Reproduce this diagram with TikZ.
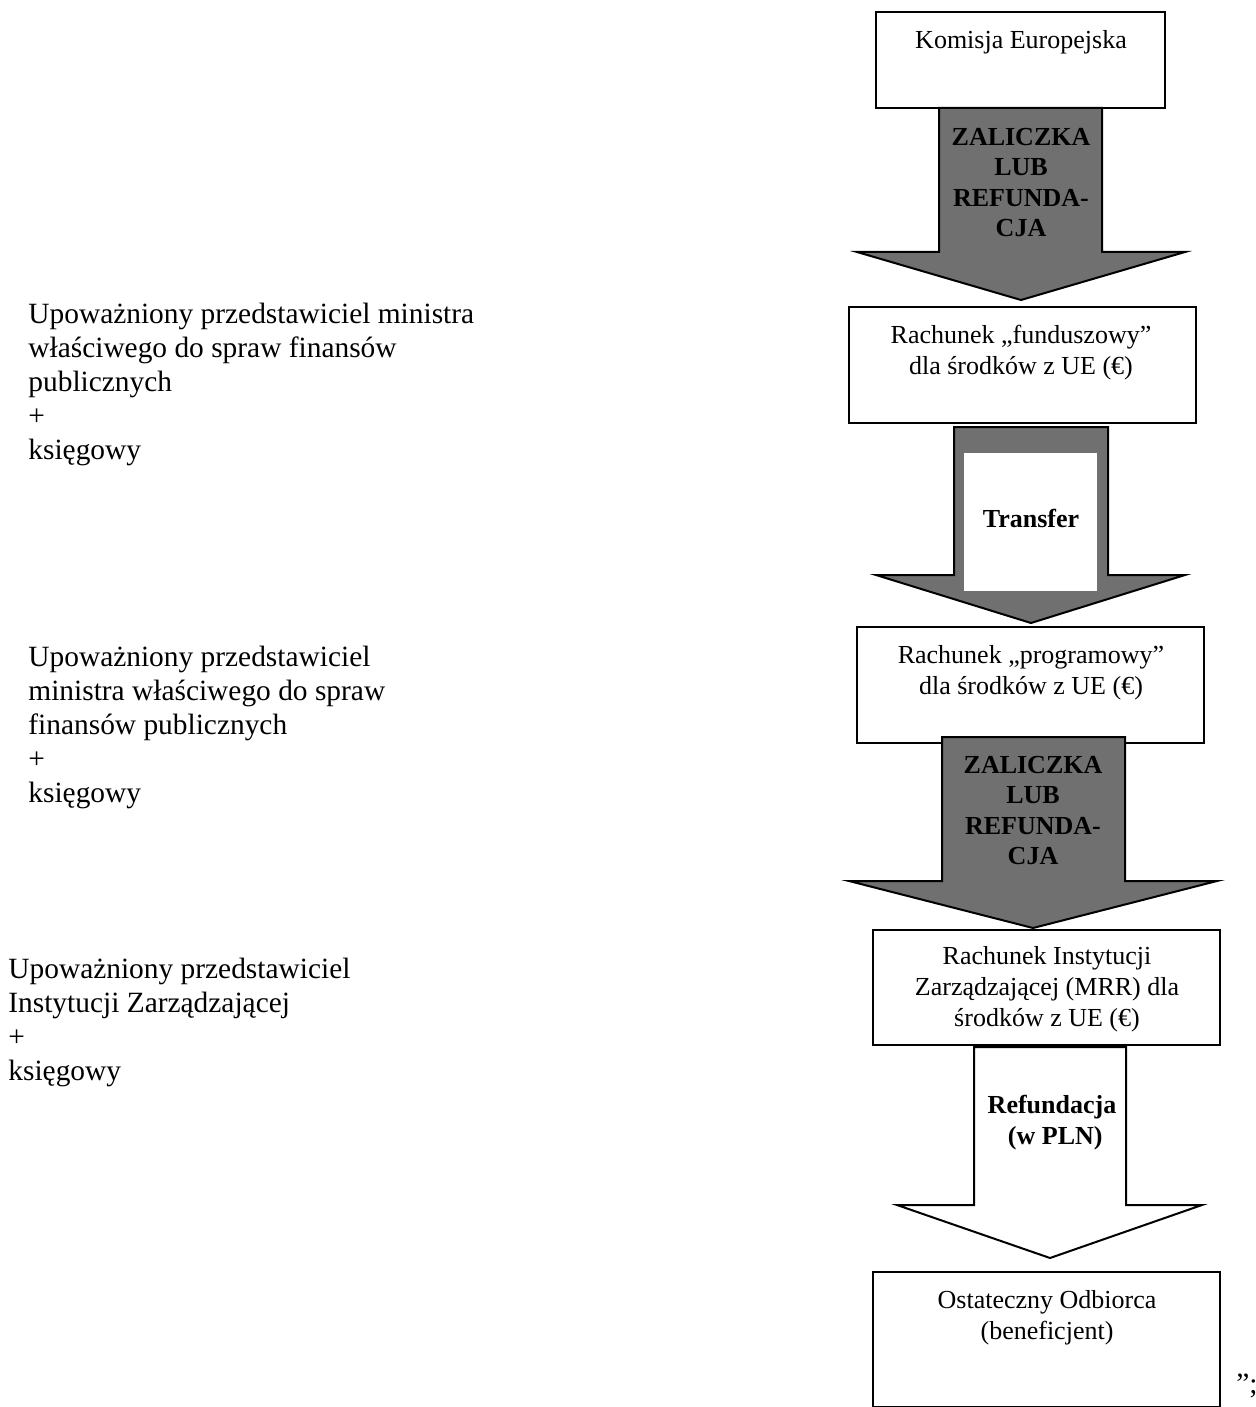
\documentclass[tikz,border=0pt]{standalone}
\usepackage{fontspec}
\setmainfont{Liberation Serif}
\definecolor{arrowgray}{RGB}{112,112,112}
\begin{document}
\begin{tikzpicture}[x=0.5pt,y=-0.5pt,
  box/.style={draw, line width=1pt, fill=white, inner sep=0pt},
  boxtext/.style={align=center, inner sep=0pt, font=\fontsize{13}{15.5}\selectfont},
  sidetext/.style={align=left, anchor=west, inner sep=0pt, font=\fontsize{14.7}{17}\selectfont},
  arrowtext/.style={align=center, inner sep=0pt, font=\fontsize{13}{15.3}\selectfont\bfseries},
  grayarrow/.style={draw, line width=1pt, fill=arrowgray, line join=miter},
  whitearrow/.style={draw, line width=1pt, fill=white, line join=miter}]
\useasboundingbox (0,0) rectangle (1255,1407);

% boxes
\node[box, minimum width=144.5pt, minimum height=48pt] (ke) at (1020.5,60) {};
\node[box, minimum width=173.5pt, minimum height=58pt] (fund) at (1022.5,365) {};
\node[box, minimum width=173.5pt, minimum height=58pt] (prog) at (1030.5,685) {};
\node[box, minimum width=173.5pt, minimum height=57.5pt] (iz) at (1046.5,987.5) {};
\node[box, minimum width=173.5pt, minimum height=67.5pt] (odb) at (1046.5,1339) {};

% arrows
\draw[grayarrow] (939,108) -- (939,252) -- (857,252) -- (1021,300) -- (1185,252) -- (1102,252) -- (1102,108) -- cycle;
\draw[grayarrow] (954,427) -- (954,575) -- (876,575) -- (1031,623) -- (1185,575) -- (1108,575) -- (1108,427) -- cycle;
\fill[white] (964,453) rectangle (1097,591);
\draw[grayarrow] (942,737) -- (942,881) -- (849,881) -- (1033,928) -- (1217,881) -- (1125,881) -- (1125,737) -- cycle;
\draw[whitearrow] (974,1047) -- (974,1205) -- (897,1205) -- (1050,1258) -- (1202,1205) -- (1126,1205) -- (1126,1047) -- cycle;

% box texts
\node[boxtext] (tke) at (1021,42) {Komisja Europejska};
\node[boxtext] (tfund) at (1021,352.5) {Rachunek „funduszowy”\\dla środków z UE (€)};
\node[boxtext] (tprog) at (1031,672.5) {Rachunek „programowy”\\dla środków z UE (€)};
\node[boxtext] (tiz) at (1047,989.5) {Rachunek Instytucji\\Zarządzającej (MRR) dla\\środków z UE (€)};
\node[boxtext] (todb) at (1047,1317.5) {Ostateczny Odbiorca\\(beneficjent)};

% arrow texts
\node[arrowtext] (a1) at (1021,182.5) {ZALICZKA\\LUB\\REFUNDA-\\CJA};
\node[arrowtext] (a2) at (1031,518) {Transfer};
\node[arrowtext] (a3) at (1033,810.5) {ZALICZKA\\LUB\\REFUNDA-\\CJA};
\node[arrowtext] (a4) at (1052,1122.5) {Refundacja\\\ (w PLN)};

% side texts
\node[sidetext] (s1) at (28,384) {Upoważniony przedstawiciel ministra\\właściwego do spraw finansów\\publicznych\\+\\księgowy};
\node[sidetext] (s2) at (28,727) {Upoważniony przedstawiciel\\ministra właściwego do spraw\\finansów publicznych\\+\\księgowy};
\node[sidetext] (s3) at (8,1022.5) {Upoważniony przedstawiciel\\Instytucji Zarządzającej\\+\\księgowy};

\node[sidetext] (end) at (1236,1386) {”;};
\end{tikzpicture}
\end{document}
